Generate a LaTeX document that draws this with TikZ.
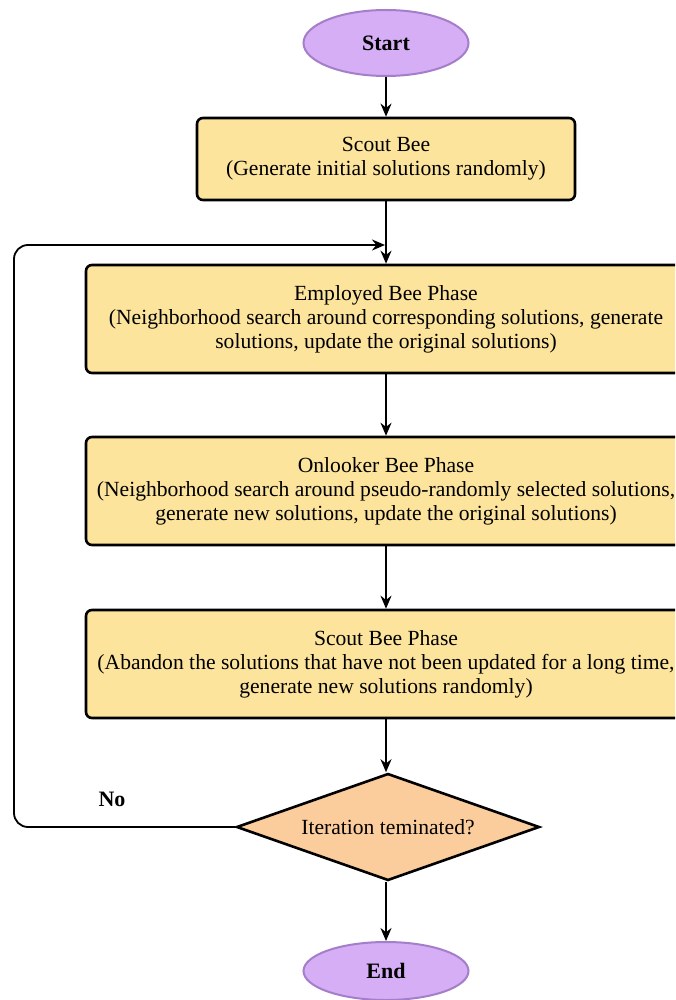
\documentclass[tikz,border=0pt]{standalone}
\usepackage{fontspec}
\setmainfont{Liberation Serif}
\usetikzlibrary{shapes.geometric,arrows.meta}
\definecolor{termfill}{RGB}{213,174,246}
\definecolor{termdraw}{RGB}{164,126,200}
\definecolor{procfill}{RGB}{252,228,156}
\definecolor{decfill}{RGB}{251,204,156}
\tikzset{
  terminal/.style={ellipse, draw=termdraw, fill=termfill, line width=2pt,
    minimum width=165pt, minimum height=66pt, inner sep=0pt,
    font=\fontsize{22}{24}\selectfont\bfseries},
  procbox/.style={rectangle, rounded corners=6pt, draw=black, fill=procfill,
    line width=2.6pt, align=center, inner sep=0pt,
    font=\fontsize{21.6}{24}\selectfont},
  decision/.style={diamond, aspect=2.83, draw=black, fill=decfill, line width=2.6pt,
    minimum width=303pt, minimum height=107pt, inner sep=0pt,
    font=\fontsize{21.6}{24}\selectfont},
  flow/.style={line width=1.8pt, -{Stealth[length=13pt,width=11pt]}},
  looplabel/.style={font=\fontsize{22}{24}\selectfont\bfseries}
}
\begin{document}
\begin{tikzpicture}[x=1pt,y=-1pt]
  \clip (0,0) rectangle (675,1000);
  \fill[white] (0,0) rectangle (675,1000);

  % flow of the algorithm, top to bottom
  \node[terminal] (start) at (386,43) {Start};
  \node[procbox, minimum width=378pt, minimum height=82pt] (init) at (386,159)
    {Scout Bee\\(Generate initial solutions randomly)};
  \node[procbox, minimum width=600pt, minimum height=108pt] (employed) at (386,319)
    {Employed Bee Phase\\(Neighborhood search around corresponding solutions, generate\\solutions, update the original solutions)};
  \node[procbox, minimum width=600pt, minimum height=108pt] (onlooker) at (386,491)
    {Onlooker Bee Phase\\(Neighborhood search around pseudo-randomly selected solutions,\\generate new solutions, update the original solutions)};
  \node[procbox, minimum width=600pt, minimum height=108pt] (scout) at (386,664)
    {Scout Bee Phase\\(Abandon the solutions that have not been updated for a long time,\\generate new solutions randomly)};
  \node[decision] (check) at (388,827) {Iteration teminated?};
  \node[terminal, minimum height=58pt] (end) at (386,971) {End};

  % connectors
  \draw[flow] (start) -- (init);
  \draw[flow] (init) -- (employed);
  \draw[flow] (employed) -- (onlooker);
  \draw[flow] (onlooker) -- (scout);
  \draw[flow] (scout.south) -- (scout.south |- check.north);
  \draw[flow] (check.south -| end.north) -- (end);

  % loop back when not terminated
  \coordinate (looptop) at (14,245);
  \coordinate (loopjoin) at (385,245);
  \draw[flow, rounded corners=14pt] (check.west) -| (looptop) -- (loopjoin);
  \node[looplabel] (no) at (112,799) {No};
\end{tikzpicture}
\end{document}
